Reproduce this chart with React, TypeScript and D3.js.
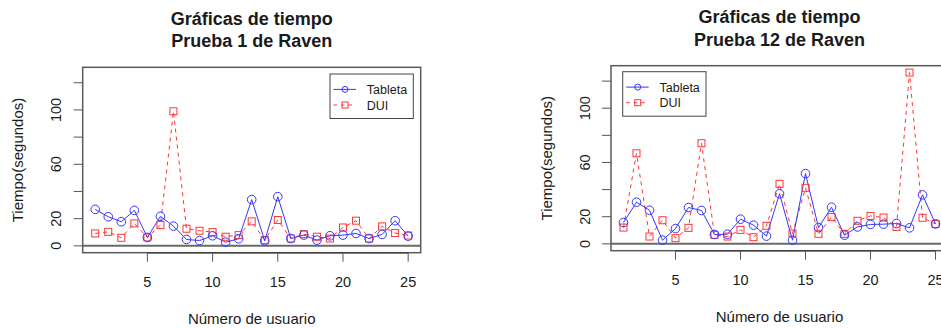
import React from "react";
import * as d3 from "d3";

const usuarios = [1,2,3,4,5,6,7,8,9,10,11,12,13,14,15,16,17,18,19,20,21,22,23,24,25];
const xTicks = [5, 10, 15, 20, 25];
const yTicks = [0, 20, 40, 60, 80, 100, 120];
const yTickLabels = ["0", "20", "", "60", "", "100", ""];

const tabletaP1 = [26.8,21.4,17.7,26.1,6.2,21.7,14.5,4.7,3.9,7.4,2.7,5.2,34,3.7,36.2,5.4,7.9,4.2,7.4,7.9,9.1,5.4,8.4,18.5,7.1];
const duiP1 = [9.1,10.3,5.9,16.5,6.2,15.3,99,12.6,11.1,10.1,6.7,7.9,18,4.2,19,5.4,8.6,6.7,5.4,13.5,18.5,5.4,14.3,9.4,7.6];
const tabletaP12 = [15.7,30.7,24.8,2.7,11.3,26.8,24.6,6.9,7.1,18.2,13.8,5.7,36.9,2.7,51.8,12,27,6.4,12.5,14.3,14.5,15,11.8,36.1,14.7];
const duiP12 = [12,66.8,5.4,17.4,4.2,11.8,74.2,6.6,5.4,10.3,4.9,13.3,44.2,7.6,41.3,7.4,19.7,7.4,17,20.6,19.4,12.5,126.3,19.2,14.7];

const titulo1 = ["Gráficas de tiempo", "Prueba 1 de Raven"];
const titulo12 = ["Gráficas de tiempo", "Prueba 12 de Raven"];
const seriesNames = ["Tableta", "DUI"];

const yMax = d3.max([...tabletaP1, ...duiP1, ...tabletaP12, ...duiP12]) as number;

const BLUE = "#3535ff";
const RED = "#ff3535";
const TEXT = "#1a1a1a";
const FONT = "'Liberation Sans', Arial, Helvetica, sans-serif";

type PanelProps = {
  left: number; right: number; top: number; bottom: number;
  title: string[]; tab: number[]; dui: number[];
  legendX: number; legendY: number;
};

function Panel({ left, right, top, bottom, title, tab, dui, legendX, legendY }: PanelProps) {
  const xs = d3.scaleLinear().domain([1 - 0.96, 25 + 0.96]).range([left, right]);
  const ys = d3.scaleLinear().domain([-0.04 * yMax, 1.04 * yMax]).range([bottom, top]);
  const line = d3.line<number>().x((_, i) => xs(usuarios[i])).y((d) => ys(d));
  const cx = (left + right) / 2;
  const cy = (top + bottom) / 2;
  const sq = 7;
  return (
    <g>
      {/* title */}
      <text x={cx} y={top - 42.3} textAnchor="middle" fontWeight="bold" fontSize={18} fill={TEXT}>{title[0]}</text>
      <text x={cx} y={top - 20} textAnchor="middle" fontWeight="bold" fontSize={18} fill={TEXT}>{title[1]}</text>
      {/* h = 0 line */}
      <line x1={left} x2={right} y1={ys(0)} y2={ys(0)} stroke="#6a6a6a" strokeWidth={2} />
      {/* series */}
      <path d={line(dui) || ""} fill="none" stroke={RED} strokeWidth={1} strokeDasharray="4,4" />
      <path d={line(tab) || ""} fill="none" stroke={BLUE} strokeWidth={1} />
      {dui.map((v, i) => (
        <rect key={"d" + i} x={xs(usuarios[i]) - sq / 2} y={ys(v) - sq / 2} width={sq} height={sq} fill="none" stroke={RED} strokeWidth={1} />
      ))}
      {tab.map((v, i) => (
        <circle key={"t" + i} cx={xs(usuarios[i])} cy={ys(v)} r={4.3} fill="none" stroke={BLUE} strokeWidth={1} />
      ))}
      {/* box */}
      <rect x={left} y={top} width={right - left} height={bottom - top} fill="none" stroke="#5a5a5a" strokeWidth={1.5} />
      {/* x axis */}
      <line x1={xs(xTicks[0])} x2={xs(xTicks[xTicks.length - 1])} y1={bottom} y2={bottom} stroke="#444" strokeWidth={1.5} />
      {xTicks.map((t) => (
        <g key={"xt" + t}>
          <line x1={xs(t)} x2={xs(t)} y1={bottom} y2={bottom + 9} stroke="#555" strokeWidth={1} />
          <text x={xs(t)} y={bottom + 34.3} textAnchor="middle" fontSize={14.5} fill={TEXT}>{t}</text>
        </g>
      ))}
      {/* y axis */}
      {yTicks.map((t, i) => (
        <g key={"yt" + t}>
          <line x1={left - 9} x2={left} y1={ys(t)} y2={ys(t)} stroke="#555" strokeWidth={1} />
          {yTickLabels[i] && (
            <text transform={`translate(${left - 21.5},${ys(t)}) rotate(-90)`} textAnchor="middle" fontSize={14.5} fill={TEXT}>{yTickLabels[i]}</text>
          )}
        </g>
      ))}
      {/* axis labels */}
      <text x={cx} y={bottom + 71.5} textAnchor="middle" fontSize={15} fill={TEXT}>Número de usuario</text>
      <text transform={`translate(${left - 59.5},${cy}) rotate(-90)`} textAnchor="middle" fontSize={15} fill={TEXT}>Tiempo(segundos)</text>
      {/* legend */}
      <g transform={`translate(${legendX},${legendY})`}>
        <rect x={0} y={0} width={83.3} height={44.5} fill="white" stroke="#444" strokeWidth={1} />
        <line x1={3.5} x2={26} y1={15.4} y2={15.4} stroke={BLUE} strokeWidth={1} />
        <circle cx={15} cy={15.4} r={3} fill="none" stroke={BLUE} strokeWidth={1} />
        <line x1={3.5} x2={26} y1={31} y2={31} stroke={RED} strokeWidth={1} strokeDasharray="3.5,4" />
        <rect x={12} y={28} width={6} height={6} fill="none" stroke={RED} strokeWidth={1} />
        <text x={36.8} y={15.4 + 4.5} fontSize={12.5} fill={TEXT}>{seriesNames[0]}</text>
        <text x={36.8} y={31 + 4.5} fontSize={12.5} fill={TEXT}>{seriesNames[1]}</text>
      </g>
    </g>
  );
}

export default function App() {
  return (
    <svg width={941} height={329} style={{ position: "absolute", left: 0, top: 0, background: "white" }} fontFamily={FONT}>
      <rect x={0} y={0} width={941} height={329} fill="white" />
      <Panel left={82.7} right={420.7} top={67.3} bottom={252.7} title={titulo1} tab={tabletaP1} dui={duiP1} legendX={330} legendY={74} />
      <Panel left={611} right={948} top={65.7} bottom={250.7} title={titulo12} tab={tabletaP12} dui={duiP12} legendX={622.7} legendY={71.7} />
    </svg>
  );
}
